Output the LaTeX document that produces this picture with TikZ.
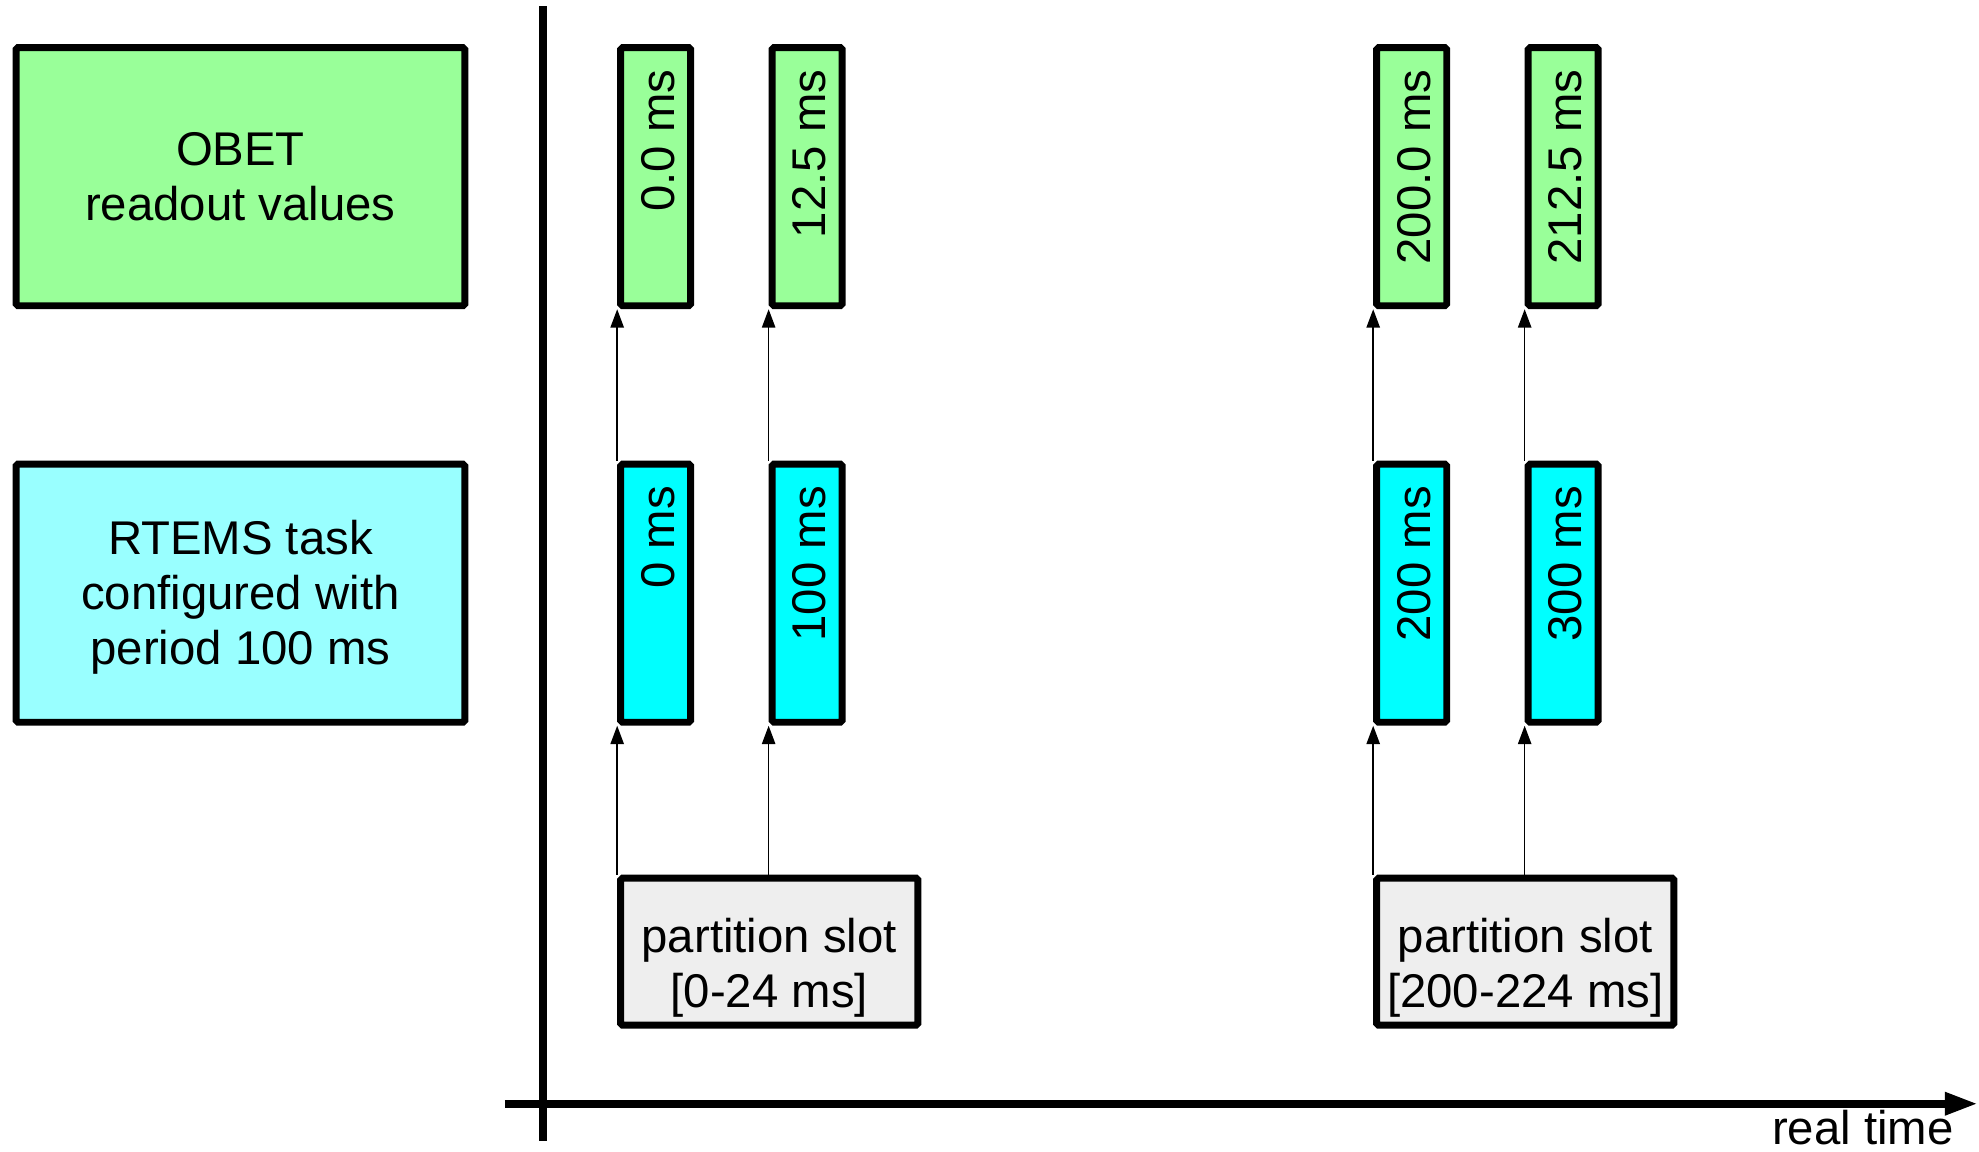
\documentclass[tikz,border=0pt]{standalone}
\usepackage{fontspec}
\setmainfont{Liberation Sans}
\usetikzlibrary{arrows.meta,calc}
\definecolor{obetgreen}{HTML}{99FF99}
\definecolor{rtcyan}{HTML}{99FFFF}
\definecolor{tkcyan}{HTML}{00FFFF}
\definecolor{slotgrey}{HTML}{EEEEEE}
\begin{document}
\begin{tikzpicture}[x=1pt,y=-1pt,
  txt/.style={inner sep=0pt, align=center, font=\fontsize{37.5}{43.5}\selectfont},
  box/.style={draw=black, line width=5.5pt, rounded corners=1.5pt, txt},
  bigbox/.style={box, minimum width=355.5pt, minimum height=204.5pt},
  tickbox/.style={box, minimum width=55.5pt, minimum height=204.5pt},
  slotbox/.style={box, fill=slotgrey, minimum width=235.5pt, minimum height=116.5pt},
  vlabel/.style={txt, rotate=90, anchor=east},
  link/.style={line width=1.3pt, -{Triangle[length=14.5pt,width=10.5pt]}},
  axisline/.style={line width=6pt}]
\useasboundingbox (0,0) rectangle (1568,912);

% left legend boxes
\node[bigbox, fill=obetgreen] (obet) at (190.5,140) {};
\node[txt] (obett) at ($(obet.center)+(0,0)$) {OBET\\readout values};
\node[bigbox, fill=rtcyan] (rtems) at (190.5,470) {};
\node[txt] (rtemst) at ($(rtems.center)+(0,3)$) {RTEMS task\\configured with\\period 100 ms};

% axes
\coordinate (ytop) at (430,5);
\coordinate (ybot) at (430,904);
\coordinate (xl) at (400,874.5);
\coordinate (xr) at (1567,874.5);
\draw[axisline] (ybot) -- (ytop);
\draw[axisline, -{Triangle[length=26pt,width=17pt]}] (xl) -- (xr);
\node[txt, anchor=base east] (rt) at (1548,907) {real time};

% OBET readout ticks
\node[tickbox, fill=obetgreen] (g1) at (519.5,140) {};
\node[tickbox, fill=obetgreen] (g2) at (639.5,140) {};
\node[tickbox, fill=obetgreen] (g3) at (1118.5,140) {};
\node[tickbox, fill=obetgreen] (g4) at (1238.5,140) {};
\node[vlabel] (lg1) at ($(g1.north)+(2,20)$) {0.0 ms};
\node[vlabel] (lg2) at ($(g2.north)+(2,20)$) {12.5 ms};
\node[vlabel] (lg3) at ($(g3.north)+(2,20)$) {200.0 ms};
\node[vlabel] (lg4) at ($(g4.north)+(2,20)$) {212.5 ms};

% RTEMS task ticks
\node[tickbox, fill=tkcyan] (c1) at (519.5,470) {};
\node[tickbox, fill=tkcyan] (c2) at (639.5,470) {};
\node[tickbox, fill=tkcyan] (c3) at (1118.5,470) {};
\node[tickbox, fill=tkcyan] (c4) at (1238.5,470) {};
\node[vlabel] (lc1) at ($(c1.north)+(2,20)$) {0 ms};
\node[vlabel] (lc2) at ($(c2.north)+(2,20)$) {100 ms};
\node[vlabel] (lc3) at ($(c3.north)+(2,20)$) {200 ms};
\node[vlabel] (lc4) at ($(c4.north)+(2,20)$) {300 ms};

% partition slots
\node[slotbox] (s1) at (609.5,754) {};
\node[txt] (s1t) at ($(s1.center)+(0,13)$) {partition slot\\{[0-24 ms]}};
\node[slotbox] (s2) at (1208.5,754) {};
\node[txt] (s2t) at ($(s2.center)+(0,13)$) {partition slot\\{[200-224 ms]}};

% connectors
\draw[link] (c1.south west |- s1.north) -- (c1.south west);
\draw[link] (c2.south west |- s1.north) -- (c2.south west);
\draw[link] (c3.south west |- s2.north) -- (c3.south west);
\draw[link] (c4.south west |- s2.north) -- (c4.south west);
\draw[link] (c1.north west) -- (g1.south west);
\draw[link] (c2.north west) -- (g2.south west);
\draw[link] (c3.north west) -- (g3.south west);
\draw[link] (c4.north west) -- (g4.south west);
\end{tikzpicture}
\end{document}
